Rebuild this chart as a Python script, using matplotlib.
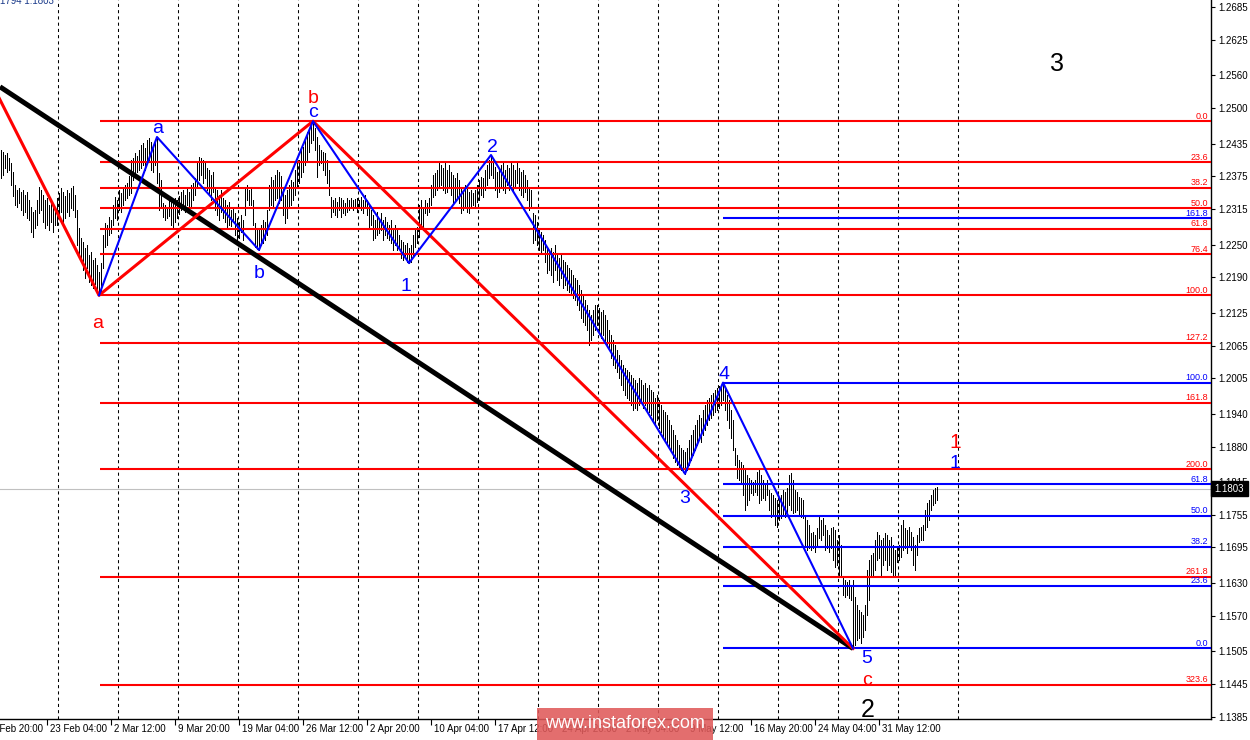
import numpy as np
import matplotlib
matplotlib.use("Agg")
import matplotlib.pyplot as plt
from matplotlib.patches import Rectangle
from matplotlib.transforms import blended_transform_factory

# EURUSD H4 bars, prices in pips (price * 10000)
HIGH = [
    12423, 12420, 12414, 12418, 12409, 12399, 12383, 12359, 12350, 12354,
    12346, 12350, 12341, 12346, 12332, 12319, 12310, 12313, 12332, 12355,
    12350, 12341, 12332, 12335, 12322, 12332, 12326, 12319, 12335, 12344,
    12354, 12346, 12339, 12350, 12344, 12354, 12357, 12341, 12313, 12280,
    12262, 12255, 12244, 12249, 12231, 12236, 12222, 12225, 12213, 12200,
    12216, 12267, 12289, 12286, 12301, 12295, 12322, 12337, 12332, 12350,
    12344, 12354, 12359, 12363, 12376, 12405, 12409, 12418, 12412, 12423,
    12432, 12436, 12427, 12441, 12445, 12438, 12432, 12441, 12447, 12381,
    12368, 12326, 12322, 12319, 12332, 12337, 12326, 12335, 12332, 12339,
    12346, 12350, 12341, 12354, 12346, 12359, 12363, 12372, 12401, 12410,
    12409, 12405, 12401, 12390, 12387, 12377, 12383, 12355, 12350, 12341,
    12350, 12335, 12332, 12322, 12328, 12313, 12317, 12308, 12299, 12291,
    12304, 12295, 12354, 12359, 12350, 12355, 12332, 12289, 12280, 12277,
    12286, 12295, 12291, 12313, 12359, 12374, 12368, 12377, 12387, 12383,
    12376, 12355, 12341, 12350, 12359, 12368, 12364, 12387, 12399, 12405,
    12423, 12429, 12441, 12456, 12460, 12469, 12476, 12464, 12447, 12432,
    12423, 12420, 12418, 12405, 12387, 12337, 12332, 12335, 12328, 12337,
    12335, 12332, 12326, 12335, 12332, 12335, 12332, 12333, 12335, 12332,
    12337, 12332, 12341, 12332, 12322, 12313, 12304, 12295, 12310, 12299,
    12308, 12295, 12301, 12291, 12286, 12295, 12280, 12286, 12277, 12267,
    12258, 12255, 12249, 12253, 12244, 12249, 12267, 12280, 12282, 12322,
    12332, 12317, 12332, 12326, 12335, 12359, 12377, 12381, 12387, 12399,
    12396, 12390, 12399, 12387, 12396, 12383, 12377, 12372, 12381, 12368,
    12355, 12350, 12359, 12354, 12346, 12350, 12344, 12350, 12359, 12368,
    12374, 12372, 12387, 12396, 12405, 12414, 12405, 12392, 12383, 12387,
    12396, 12399, 12387, 12396, 12390, 12399, 12396, 12387, 12399, 12390,
    12383, 12387, 12377, 12368, 12355, 12350, 12308, 12304, 12291, 12277,
    12273, 12267, 12258, 12245, 12240, 12244, 12236, 12249, 12231, 12225,
    12231, 12222, 12218, 12213, 12207, 12203, 12194, 12189, 12185, 12176,
    12167, 12157, 12148, 12139, 12130, 12121, 12130, 12139, 12139, 12134,
    12126, 12130, 12121, 12112, 12093, 12084, 12075, 12066, 12057, 12048,
    12038, 12029, 12024, 12020, 12016, 12011, 12006, 12002, 11996, 12006,
    12002, 11993, 11996, 11987, 11993, 11983, 11980, 11969, 11974, 11965,
    11956, 11947, 11943, 11938, 11929, 11919, 11910, 11901, 11892, 11883,
    11877, 11874, 11870, 11877, 11892, 11901, 11910, 11919, 11929, 11938,
    11932, 11947, 11956, 11965, 11969, 11974, 11978, 11983, 11987, 11991,
    11993, 11997, 11987, 11974, 11965, 11947, 11929, 11877, 11864, 11855,
    11852, 11846, 11837, 11828, 11822, 11819, 11815, 11819, 11833, 11837,
    11828, 11819, 11813, 11819, 11800, 11795, 11791, 11786, 11782, 11787,
    11791, 11800, 11797, 11804, 11828, 11832, 11819, 11800, 11797, 11787,
    11786, 11782, 11755, 11745, 11736, 11722, 11723, 11718, 11731, 11751,
    11745, 11749, 11736, 11727, 11718, 11731, 11733, 11727, 11709, 11718,
    11700, 11639, 11635, 11632, 11635, 11626, 11635, 11604, 11590, 11580,
    11577, 11571, 11590, 11654, 11672, 11681, 11685, 11709, 11723, 11718,
    11709, 11712, 11722, 11718, 11709, 11714, 11700, 11690, 11696, 11700,
    11736, 11745, 11731, 11727, 11733, 11723, 11714, 11700, 11718, 11731,
    11733, 11736, 11764, 11777, 11782, 11791, 11800, 11804, 11806,
]
LOW = [
    12372, 12377, 12390, 12383, 12387, 12359, 12339, 12322, 12319, 12326,
    12313, 12304, 12310, 12299, 12295, 12273, 12264, 12280, 12286, 12308,
    12313, 12291, 12280, 12286, 12277, 12291, 12273, 12286, 12286, 12299,
    12310, 12291, 12299, 12310, 12302, 12317, 12313, 12301, 12249, 12231,
    12218, 12203, 12189, 12207, 12181, 12176, 12170, 12178, 12167, 12157,
    12163, 12207, 12245, 12249, 12267, 12271, 12286, 12299, 12295, 12313,
    12310, 12322, 12332, 12335, 12341, 12344, 12368, 12374, 12383, 12387,
    12390, 12396, 12387, 12401, 12405, 12387, 12383, 12396, 12363, 12313,
    12317, 12301, 12295, 12299, 12302, 12286, 12282, 12291, 12299, 12306,
    12313, 12317, 12310, 12322, 12317, 12321, 12332, 12341, 12355, 12368,
    12377, 12363, 12372, 12350, 12341, 12332, 12346, 12313, 12304, 12295,
    12310, 12299, 12291, 12282, 12286, 12284, 12291, 12267, 12258, 12262,
    12273, 12258, 12304, 12332, 12322, 12322, 12286, 12245, 12242, 12240,
    12249, 12253, 12258, 12267, 12313, 12322, 12317, 12332, 12335, 12326,
    12332, 12304, 12289, 12299, 12319, 12322, 12332, 12341, 12355, 12363,
    12374, 12383, 12396, 12405, 12420, 12436, 12441, 12423, 12374, 12396,
    12399, 12387, 12377, 12363, 12341, 12301, 12310, 12304, 12301, 12313,
    12301, 12308, 12304, 12310, 12313, 12317, 12313, 12319, 12310, 12317,
    12313, 12308, 12317, 12304, 12282, 12286, 12258, 12262, 12267, 12271,
    12277, 12258, 12267, 12262, 12258, 12253, 12240, 12249, 12240, 12244,
    12225, 12222, 12227, 12218, 12216, 12218, 12231, 12245, 12253, 12264,
    12286, 12277, 12308, 12304, 12310, 12322, 12337, 12341, 12350, 12355,
    12359, 12350, 12344, 12346, 12354, 12341, 12326, 12332, 12335, 12326,
    12308, 12313, 12317, 12310, 12308, 12319, 12322, 12321, 12328, 12332,
    12341, 12337, 12350, 12359, 12372, 12377, 12372, 12350, 12337, 12346,
    12354, 12350, 12344, 12359, 12350, 12359, 12350, 12354, 12363, 12350,
    12341, 12337, 12346, 12332, 12313, 12319, 12253, 12258, 12249, 12240,
    12235, 12240, 12218, 12198, 12203, 12194, 12181, 12203, 12185, 12176,
    12189, 12170, 12176, 12167, 12163, 12157, 12152, 12148, 12139, 12130,
    12115, 12108, 12103, 12093, 12066, 12075, 12084, 12093, 12103, 12090,
    12079, 12084, 12071, 12066, 12057, 12042, 12029, 12024, 12016, 12006,
    11993, 11983, 11974, 11969, 11965, 11956, 11947, 11950, 11947, 11956,
    11965, 11950, 11956, 11947, 11943, 11938, 11929, 11919, 11929, 11914,
    11906, 11896, 11892, 11883, 11877, 11870, 11859, 11852, 11846, 11841,
    11837, 11833, 11830, 11837, 11846, 11855, 11864, 11874, 11883, 11892,
    11888, 11901, 11910, 11919, 11929, 11932, 11938, 11943, 11947, 11950,
    11956, 11965, 11947, 11929, 11914, 11896, 11874, 11846, 11822, 11819,
    11815, 11791, 11764, 11773, 11782, 11795, 11791, 11797, 11791, 11777,
    11782, 11786, 11782, 11791, 11764, 11751, 11755, 11736, 11733, 11745,
    11749, 11755, 11751, 11760, 11773, 11764, 11758, 11760, 11764, 11755,
    11751, 11749, 11700, 11690, 11694, 11690, 11694, 11687, 11700, 11712,
    11709, 11718, 11690, 11694, 11687, 11694, 11672, 11659, 11663, 11645,
    11641, 11608, 11604, 11608, 11602, 11599, 11510, 11516, 11526, 11529,
    11520, 11531, 11544, 11571, 11599, 11641, 11645, 11654, 11672, 11676,
    11645, 11663, 11672, 11654, 11663, 11650, 11645, 11641, 11668, 11672,
    11678, 11690, 11694, 11685, 11700, 11690, 11663, 11654, 11681, 11705,
    11709, 11709, 11727, 11733, 11745, 11764, 11773, 11777, 11782,
]
LAST_PRICE = 11803

# wave pivots (bar index, side)
RED_PIVOTS = [(49, "L"), (156, "H"), (426, "L")]
PRIOR_HIGH = (-6, 12555)          # off-screen start of the red line
TREND_START = (-0.5, 12539)       # black trend line start
BLUE_PIVOTS = [(49, "L"), (78, "H"), (129, "L"), (156, "H"), (204, "L"),
               (245, "H"), (342, "L"), (361, "H"), (426, "L")]

RED_FIB = [0.0, 23.6, 38.2, 50.0, 61.8, 76.4, 100.0, 127.2, 161.8, 200.0, 261.8, 323.6]
BLUE_FIB = [0.0, 23.6, 38.2, 50.0, 61.8, 100.0, 161.8]

YTICKS = [1.2685, 1.2625, 1.2560, 1.2500, 1.2435, 1.2375, 1.2315, 1.2250, 1.2190,
          1.2125, 1.2065, 1.2005, 1.1940, 1.1880, 1.1815, 1.1755, 1.1695, 1.1630,
          1.1570, 1.1505, 1.1445, 1.1385]
XLABELS = ["15 Feb 20:00", "23 Feb 04:00", "2 Mar 12:00", "9 Mar 20:00", "19 Mar 04:00",
           "26 Mar 12:00", "2 Apr 20:00", "10 Apr 04:00", "17 Apr 12:00", "24 Apr 20:00",
           "2 May 04:00", "9 May 12:00", "16 May 20:00", "24 May 04:00", "31 May 12:00"]

hi = np.array(HIGH) / 10000
lo = np.array(LOW) / 10000


def piv(b, side):
    return (HIGH[b] if side == "H" else LOW[b]) / 10000


W, H = 1250, 740
fig = plt.figure(figsize=(12.5, 7.4), dpi=100)
ax = fig.add_axes([0, 21 / H, 1211 / W, 719 / H])
XMAX = 605
ax.set_xlim(-0.5, XMAX)
ax.set_ylim(1.13808, 1.26980)

lab_font = "Liberation Sans"

# weekly grid
for g in np.arange(28.5, 480, 30):
    ax.axvline(g, color="black", lw=0.75, ls=(0, (3, 3)), zorder=1)

ax.axhline(LAST_PRICE / 10000, color="#c0c0c0", lw=0.8, zorder=1)

ax.vlines(np.arange(len(hi)), lo, hi, colors="black", lw=0.4, antialiased=False, zorder=2)

# fibonacci levels
a_bar, b_bar = RED_PIVOTS[0][0], RED_PIVOTS[1][0]
a_p, b_p = piv(a_bar, "L"), piv(b_bar, "H")
for r in RED_FIB:
    p = b_p - r / 100 * (b_p - a_p)
    ax.hlines(p, a_bar + 0.5, XMAX, color="#ff0000", lw=1.5, zorder=3)
    ax.text(XMAX - 1.5, p + 0.00012, f"{r:.1f}", color="#ff0000", fontsize=6.5,
            family=lab_font, ha="right", va="bottom", zorder=5)

lo5_bar, hi4_bar = BLUE_PIVOTS[-1][0], BLUE_PIVOTS[-2][0]
l5, h4 = piv(lo5_bar, "L"), piv(hi4_bar, "H")
for r in BLUE_FIB:
    p = l5 + r / 100 * (h4 - l5)
    ax.hlines(p, hi4_bar, XMAX, color="#0000ff", lw=1.5, zorder=3)
    ax.text(XMAX - 1.5, p + 0.00012, f"{r:.1f}", color="#0000ff", fontsize=6.5,
            family=lab_font, ha="right", va="bottom", zorder=5)

# trend line and waves
ax.plot([TREND_START[0], lo5_bar], [TREND_START[1] / 10000, l5], color="black", lw=3.6,
        solid_capstyle="butt", zorder=4)
rx = [PRIOR_HIGH[0]] + [b for b, s in RED_PIVOTS]
ry = [PRIOR_HIGH[1] / 10000] + [piv(b, s) for b, s in RED_PIVOTS]
ax.plot(rx, ry, color="#ff0000", lw=2.2, zorder=4)
ax.plot([b for b, s in BLUE_PIVOTS], [piv(b, s) for b, s in BLUE_PIVOTS],
        color="#0000ff", lw=1.5, zorder=5)


def wave_label(txt, b, side, dx, dy, color, size=14):
    ax.annotate(txt, xy=(b, piv(b, side)), xytext=(dx, dy), textcoords="offset pixels",
                ha="center", va="baseline", color=color, fontsize=size, family=lab_font,
                zorder=6, annotation_clip=False)


wave_label("a", 49, "L", -1, -33, "#ff0000")
wave_label("a", 78, "H", 1, 4, "#0000ff")
wave_label("b", 156, "H", 0, 18, "#ff0000")
wave_label("c", 156, "H", 0, 4, "#0000ff")
wave_label("b", 129, "L", 0, -28, "#0000ff")
wave_label("1", 204, "L", -3, -28, "#0000ff")
wave_label("2", 245, "H", 1, 3, "#0000ff")
wave_label("3", 342, "L", 0, -29, "#0000ff")
wave_label("4", 361, "H", 1, 4, "#0000ff")
wave_label("5", 426, "L", 14, -15, "#0000ff")
wave_label("c", 426, "L", 14, -37, "#ff0000")
wave_label("2", 426, "L", 15, -69, "black", 18)
ax.text(528, 1.2568, "3", color="black", fontsize=18, family=lab_font, ha="center", va="baseline")
ax.text(477, 1.1877, "1", color="#ff0000", fontsize=15, family=lab_font, ha="center", va="baseline")
ax.text(477, 1.1841, "1", color="#0000ff", fontsize=14, family=lab_font, ha="center", va="baseline")

# axes styling
for s in ("top", "left"):
    ax.spines[s].set_visible(False)
for s in ("right", "bottom"):
    ax.spines[s].set_linewidth(1.0)
    ax.spines[s].set_color("black")
ax.yaxis.tick_right()
ax.set_yticks(YTICKS)
ax.set_yticklabels([f"{t:.4f}" for t in YTICKS], family=lab_font, fontsize=7)
ax.tick_params(axis="y", direction="out", length=3, width=0.8, pad=2)
tick_bars = [23 + 32 * k for k in range(len(XLABELS) - 1)]
ax.set_xticks(tick_bars)
ax.set_xticklabels([])
ax.tick_params(axis="x", direction="out", length=4, width=0.8)
tr = blended_transform_factory(ax.transData, ax.transAxes)
for k, lab in enumerate(XLABELS):
    xb = 23 + 32 * (k - 1)
    ax.text(xb + 1.5, -0.0135, lab, transform=tr, ha="left", va="center",
            fontsize=7, family=lab_font, clip_on=False)

# current price tag
trp = blended_transform_factory(ax.transAxes, ax.transData)
ax.add_patch(Rectangle((1.0, LAST_PRICE / 10000 - 0.0013), 37 / 1211, 0.0026,
                       transform=trp, color="black", clip_on=False, zorder=7))
ax.text(1.0 + 3 / 1211, LAST_PRICE / 10000, f"{LAST_PRICE / 10000:.4f}", transform=trp,
        color="white", fontsize=7, family=lab_font, ha="left", va="center", zorder=8,
        clip_on=False)

# header remnant
fig.text(0.0, 1 - 1 / H, "1794 1.1803", color="#1a3a8a", fontsize=7, family=lab_font,
         ha="left", va="center")

# watermark
fig.add_artist(Rectangle((537 / W, 0), 176 / W, 32 / H, transform=fig.transFigure,
                         facecolor="#e05a5a", alpha=0.88, edgecolor="none", zorder=20))
fig.text(625 / W, 16 / H, "www.instaforex.com", color="white", fontsize=13,
         family=lab_font, ha="center", va="center", zorder=21)

fig.savefig("out.png", dpi=100)
